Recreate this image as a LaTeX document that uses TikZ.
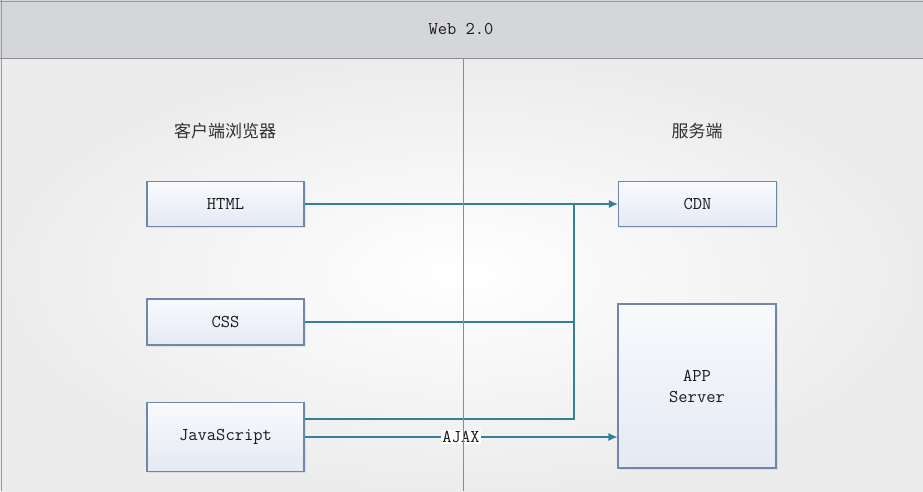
\documentclass[tikz,border=0pt]{standalone}
\usepackage{fontspec}
\newfontfamily\cjk{Noto Sans CJK SC}
\usetikzlibrary{shadows,arrows.meta}
\definecolor{boxline}{RGB}{112,136,166}
\definecolor{linkcol}{RGB}{52,128,148}
\definecolor{headfill}{RGB}{213,214,218}
\definecolor{bgedge}{RGB}{236,236,236}
\definecolor{txt}{RGB}{25,25,25}
\tikzstyle{box}=[rectangle,draw=boxline,line width=1.1pt,top color={rgb,255:red,249;green,250;blue,253},bottom color={rgb,255:red,228;green,233;blue,243},drop shadow={opacity=0.15,shadow xshift=1.5pt,shadow yshift=-1.5pt},text=txt,font=\ttfamily\fontsize{18}{21}\selectfont,align=center,inner sep=0pt]
\tikzstyle{link}=[draw=linkcol,line width=1.2pt]
\tikzstyle{title}=[text=txt!90,font=\cjk\fontsize{17}{20}\selectfont]

\begin{document}
\begin{tikzpicture}[x=1pt,y=-1pt,>={Latex[length=9pt,width=8pt]}]
\useasboundingbox (0,0) rectangle (923,491);
\shade[inner color=white,outer color=bgedge] (0,58) rectangle (923,491);
\fill[headfill] (0,0) rectangle (923,58);
\draw[gray!80,line width=1pt] (1,0) -- (1,491);
\draw[gray!80,line width=1pt] (0,1) -- (923,1);
\draw[gray!90,line width=1pt] (0,58) -- (923,58);
\node[text=txt,font=\ttfamily\fontsize{18}{21}\selectfont] (head) at (461,29) {Web 2.0};
\node[title] (client) at (225,131) {客户端浏览器};
\node[title] (server) at (697,131) {服务端};
\node[box,minimum width=157pt,minimum height=45pt] (html) at (225.5,204) {HTML};
\node[box,minimum width=157pt,minimum height=46pt] (css) at (225.5,322) {CSS};
\node[box,minimum width=157pt,minimum height=69pt] (js) at (225.5,437) {JavaScript};
\node[box,minimum width=158pt,minimum height=45pt] (cdn) at (697.5,204) {CDN};
\node[box,minimum width=158pt,minimum height=164pt] (app) at (697,386) {APP\\Server};
\coordinate (jtop) at (574,204);
\coordinate (jbot) at (574,419);
\draw[link,->] (html) -- (cdn);
\draw[link] (css) -- (css -| jtop);
\draw[link] (jtop) -- (jbot) -- (jbot -| js.east);
\draw[link,->] (js.east) -- node[fill=white,inner sep=1pt,text=txt,font=\ttfamily\fontsize{18}{21}\selectfont] (ajax) {AJAX} (js.east -| app.west);
\draw[gray!90,line width=1pt] (463,58) -- (463,491);
\end{tikzpicture}
\end{document}
